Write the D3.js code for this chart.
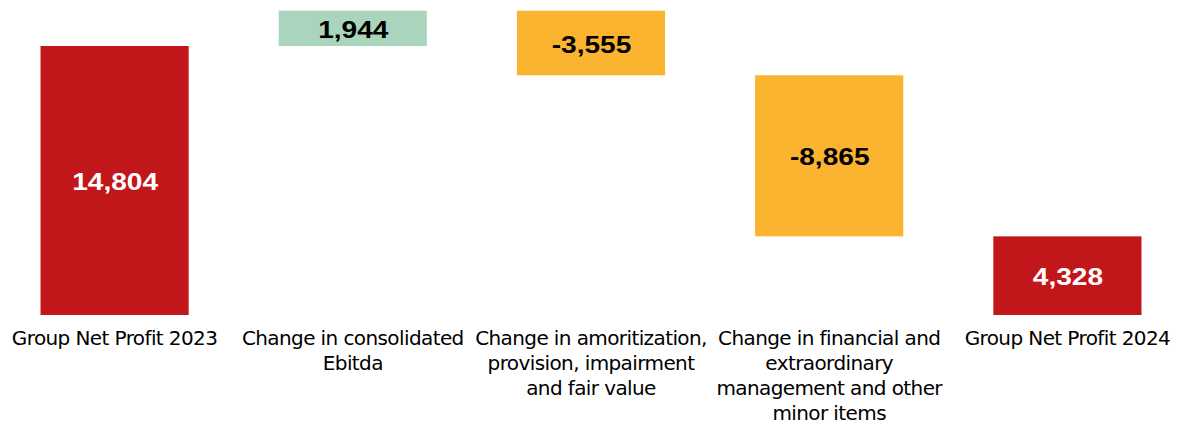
<!DOCTYPE html>
<html>
<head>
<meta charset="utf-8">
<script src="https://cdn.jsdelivr.net/npm/d3@7"></script>
<style>
  body { margin: 0; background: #fff; }
  svg { display: block; }
</style>
</head>
<body>
<script>
var width = 1183, height = 425;

// waterfall steps
const categories = ["Group Net Profit 2023", "Change in consolidated Ebitda",
    "Change in amoritization, provision, impairment and fair value",
    "Change in financial and extraordinary management and other minor items",
    "Group Net Profit 2024"];
const labelLines = [
    ["Group Net Profit 2023"],
    ["Change in consolidated", "Ebitda"],
    ["Change in amoritization,", "provision, impairment", "and fair value"],
    ["Change in financial and", "extraordinary", "management and other", "minor items"],
    ["Group Net Profit 2024"]
];
const values = [14804, 1944, -3555, -8865, 4328];
const kinds = ["total", "delta", "delta", "delta", "total"];

const colors = { total: "#c1161a", up: "#a9d5bc", down: "#fbb430" };

// build start/end for each step
var running = 0;
var bars = values.map(function(v, i) {
    var b;
    if (kinds[i] == "total") {
        b = { y0: 0, y1: v };
        running = v;
    } else {
        b = { y0: running, y1: running + v };
        running += v;
    }
    b.name = categories[i];
    b.lines = labelLines[i];
    b.value = v;
    b.kind = kinds[i] == "total" ? "total" : (v >= 0 ? "up" : "down");
    return b;
});

// plain hyphen for negatives, like the original
var fmt = d3.formatLocale({ decimal: ".", thousands: ",", grouping: [3], currency: ["", ""], minus: "-" }).format(",");

var svg = d3.select('body').append('svg')
    .attr('width', width)
    .attr('height', height);

var x = d3.scaleBand()
    .domain(categories)
    .range([-4.5, 1186.5])
    .paddingInner(0.378)
    .paddingOuter(0.189);

var y = d3.scaleLinear()
    .domain([0, d3.max(bars, d => Math.max(d.y0, d.y1))])
    .range([315, 10.7]);

svg.append('g').selectAll('rect')
    .data(bars)
    .join('rect')
    .attr('x', d => x(d.name))
    .attr('width', x.bandwidth())
    .attr('y', d => y(Math.max(d.y0, d.y1)))
    .attr('height', d => Math.abs(y(d.y0) - y(d.y1)))
    .attr('fill', d => colors[d.kind]);

// value labels inside bars (a bit stretched, like the original)
svg.append('g').selectAll('text')
    .data(bars)
    .join('text')
    .attr('transform', d => 'translate(' + (x(d.name) + x.bandwidth() / 2 + 0.5) + ',' + ((y(d.y0) + y(d.y1)) / 2) + ') scale(1.17,1)')
    .attr('dy', '0.4em')
    .attr('text-anchor', 'middle')
    .attr('font-family', '"Liberation Sans", Arial, sans-serif')
    .attr('font-weight', 'bold')
    .attr('font-size', 24)
    .attr('fill', d => d.kind == "total" ? "#fff" : "#000")
    .text(d => fmt(d.value));

// category labels (x axis, no line)
var xAxis = svg.append('g');
xAxis.selectAll('text')
    .data(bars)
    .join('text')
    .attr('x', d => x(d.name) + x.bandwidth() / 2)
    .attr('y', 345)
    .attr('text-anchor', 'middle')
    .attr('font-family', '"DejaVu Sans", Verdana, sans-serif')
    .attr('font-size', 20)
    .attr('letter-spacing', -0.6)
    .attr('fill', '#000')
    .selectAll('tspan')
    .data(d => d.lines)
    .join('tspan')
    .attr('x', function() { return this.parentNode.getAttribute('x'); })
    .attr('dy', (d, i) => i == 0 ? 0 : 25)
    .text(d => d);
</script>
</body>
</html>
